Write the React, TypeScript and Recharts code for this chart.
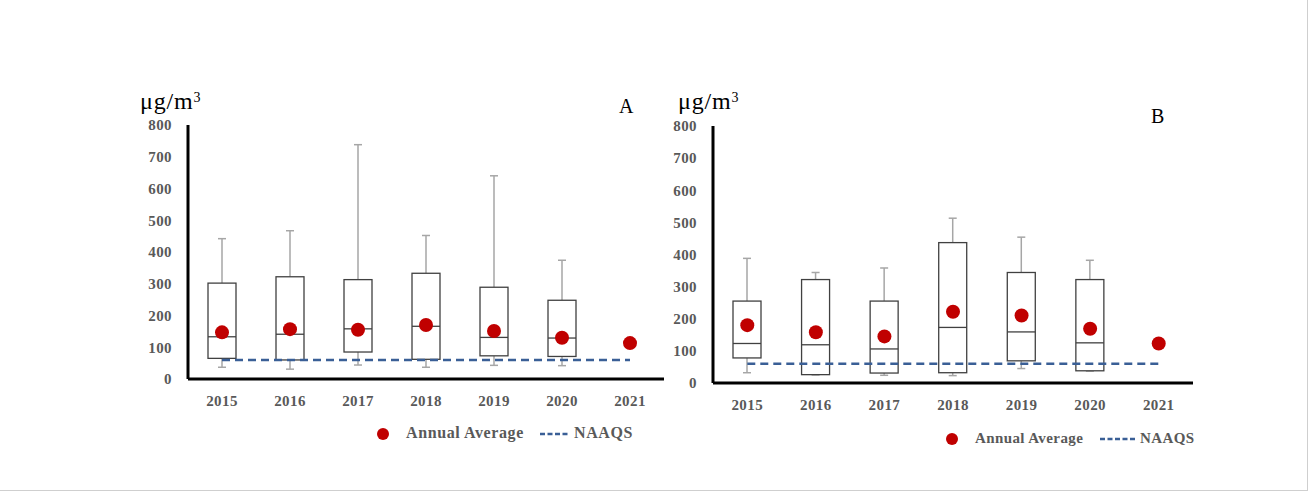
import React from "react";
import { ComposedChart, Bar, Line, Scatter, XAxis, YAxis } from "recharts";

const years = ["2015", "2016", "2017", "2018", "2019", "2020", "2021"];
const yTicks = [0, 100, 200, 300, 400, 500, 600, 700, 800];
const naaqs = [60, 60, 60, 60, 60, 60, 60];

// panel A
const aMin = [37, 31, 44, 37, 43, 42, null];
const aQ1 = [65, 60, 85, 62, 73, 71, null];
const aMed = [133, 141, 158, 166, 131, 129, null];
const aQ3 = [302, 322, 313, 333, 289, 248, null];
const aMax = [442, 467, 738, 452, 640, 374, null];
const aMean = [147, 157, 155, 170, 151, 130, 113];

// panel B
const bMin = [32, 25, 24, 23, 45, 37, null];
const bQ1 = [78, 26, 31, 32, 69, 38, null];
const bMed = [123, 119, 106, 173, 159, 125, null];
const bQ3 = [255, 322, 255, 437, 344, 322, null];
const bMax = [388, 344, 358, 513, 454, 382, null];
const bMean = [180, 158, 145, 222, 210, 169, 123];

type Row = {
  year: string;
  min: number | null;
  q1: number | null;
  med: number | null;
  q3: number | null;
  max: number | null;
  mean: number;
  naaqs: number;
};

const build = (mn: (number | null)[], q1: (number | null)[], md: (number | null)[], q3: (number | null)[], mx: (number | null)[], mean: number[]): Row[] =>
  years.map((year, i) => ({ year, min: mn[i], q1: q1[i], med: md[i], q3: q3[i], max: mx[i], mean: mean[i], naaqs: naaqs[i] }));

const dataA = build(aMin, aQ1, aMed, aQ3, aMax, aMean);
const dataB = build(bMin, bQ1, bMed, bQ3, bMax, bMean);

const serif = "Liberation Serif";
const tickFont = { fontFamily: serif, fontWeight: 700, fontSize: 15, fill: "#595959", letterSpacing: 0.4 };

// box + whiskers drawn inside the min..max range bar
const BoxShape = (props: any) => {
  const { x, y, width, height, payload } = props;
  if (payload.min == null || payload.max == null) return null;
  const top = Math.min(y, y + height);
  const bot = Math.max(y, y + height);
  const k = (bot - top) / (payload.max - payload.min);
  const pos = (v: number) => bot - (v - payload.min) * k;
  const cx = x + width / 2;
  const cap = 4;
  const wc = "#a6a6a6";
  return (
    <g>
      <line x1={cx} x2={cx} y1={pos(payload.max)} y2={pos(payload.q3)} stroke={wc} strokeWidth={1.5} />
      <line x1={cx - cap} x2={cx + cap} y1={pos(payload.max)} y2={pos(payload.max)} stroke={wc} strokeWidth={1.5} />
      <line x1={cx} x2={cx} y1={pos(payload.q1)} y2={pos(payload.min)} stroke={wc} strokeWidth={1.5} />
      <line x1={cx - cap} x2={cx + cap} y1={pos(payload.min)} y2={pos(payload.min)} stroke={wc} strokeWidth={1.5} />
      <rect x={x} y={pos(payload.q3)} width={width} height={pos(payload.q1) - pos(payload.q3)} fill="#fff" stroke="#404040" strokeWidth={1.3} />
      <line x1={x} x2={x + width} y1={pos(payload.med)} y2={pos(payload.med)} stroke="#404040" strokeWidth={1.3} />
    </g>
  );
};

const Dot = (props: any) => <circle cx={props.cx} cy={props.cy} r={7} fill="#c00000" />;

function Panel({ data, width, margin }: { data: Row[]; width: number; margin: any }) {
  return (
    <ComposedChart width={width} height={492} data={data} margin={margin}>
      <XAxis
        dataKey="year"
        axisLine={{ stroke: "#000", strokeWidth: 3 }}
        tickLine={false}
        tickSize={0}
        tickMargin={16}
        height={30}
        tick={tickFont}
        interval={0}
      />
      <YAxis
        domain={[0, 800]}
        ticks={yTicks}
        axisLine={{ stroke: "#000", strokeWidth: 3 }}
        tickLine={false}
        tickSize={0}
        tickMargin={16}
        width={60}
        tick={tickFont}
        interval={0}
      />
      <Bar
        dataKey={(d: Row) => (d.min == null ? null : [d.min, d.max])}
        barSize={28}
        shape={BoxShape}
        isAnimationActive={false}
      />
      <Line dataKey="naaqs" stroke="#3a5f96" strokeWidth={2.5} strokeDasharray="8 5" dot={false} isAnimationActive={false} />
      <Scatter dataKey="mean" shape={Dot} isAnimationActive={false} />
    </ComposedChart>
  );
}

function Legend({ left, top, dashW, gap, size, spacing }: { left: number; top: number; dashW: number; gap: number; size: number; spacing: number }) {
  const txt: React.CSSProperties = {
    position: "absolute",
    fontFamily: serif,
    fontWeight: 700,
    fontSize: size,
    letterSpacing: spacing,
    color: "#595959",
    lineHeight: "16px",
    whiteSpace: "nowrap",
    top: top - 9,
  };
  return (
    <>
      <div style={{ position: "absolute", left: left - 6, top: top - 6, width: 12, height: 12, borderRadius: 6, background: "#c00000" }} />
      <div style={{ ...txt, left: left + 23 }}>Annual Average</div>
      <svg style={{ position: "absolute", left: left + gap, top: top - 3 }} width={dashW} height={6}>
        <line x1={0} x2={dashW} y1={3} y2={3} stroke="#3a5f96" strokeWidth={2.5} strokeDasharray="5 2.5" />
      </svg>
      <div style={{ ...txt, left: left + gap + dashW + 4 }}>NAAQS</div>
    </>
  );
}

const unit: React.CSSProperties = { position: "absolute", fontFamily: serif, fontSize: 24, color: "#000", lineHeight: "24px", letterSpacing: 0.8, whiteSpace: "nowrap" };

export default function App() {
  return (
    <div
      style={{
        position: "absolute",
        left: 0,
        top: 0,
        width: 1307,
        height: 490,
        background: "#fff",
        borderRight: "1px solid #cfcfcf",
        borderBottom: "1px solid #cfcfcf",
        overflow: "hidden",
      }}
    >
      <div style={{ position: "absolute", left: 0, top: 0 }}>
        <Panel data={dataA} width={700} margin={{ top: 125, right: 36, bottom: 83, left: 128 }} />
      </div>
      <div style={{ position: "absolute", left: 650, top: 0 }}>
        <Panel data={dataB} width={560} margin={{ top: 126, right: 17, bottom: 79, left: 3 }} />
      </div>
      <div style={{ ...unit, left: 140, top: 86 }}>
        μg/m<sup style={{ fontSize: 14, verticalAlign: "7px" }}>3</sup>
      </div>
      <div style={{ ...unit, left: 678, top: 86 }}>
        μg/m<sup style={{ fontSize: 14, verticalAlign: "7px" }}>3</sup>
      </div>
      <div style={{ ...unit, left: 619, top: 94, fontSize: 20 }}>A</div>
      <div style={{ ...unit, left: 1151, top: 104, fontSize: 20 }}>B</div>
      <Legend left={383} top={434} dashW={30} gap={157} size={16} spacing={0.6} />
      <Legend left={952} top={439} dashW={36} gap={148} size={15} spacing={0.4} />
    </div>
  );
}
